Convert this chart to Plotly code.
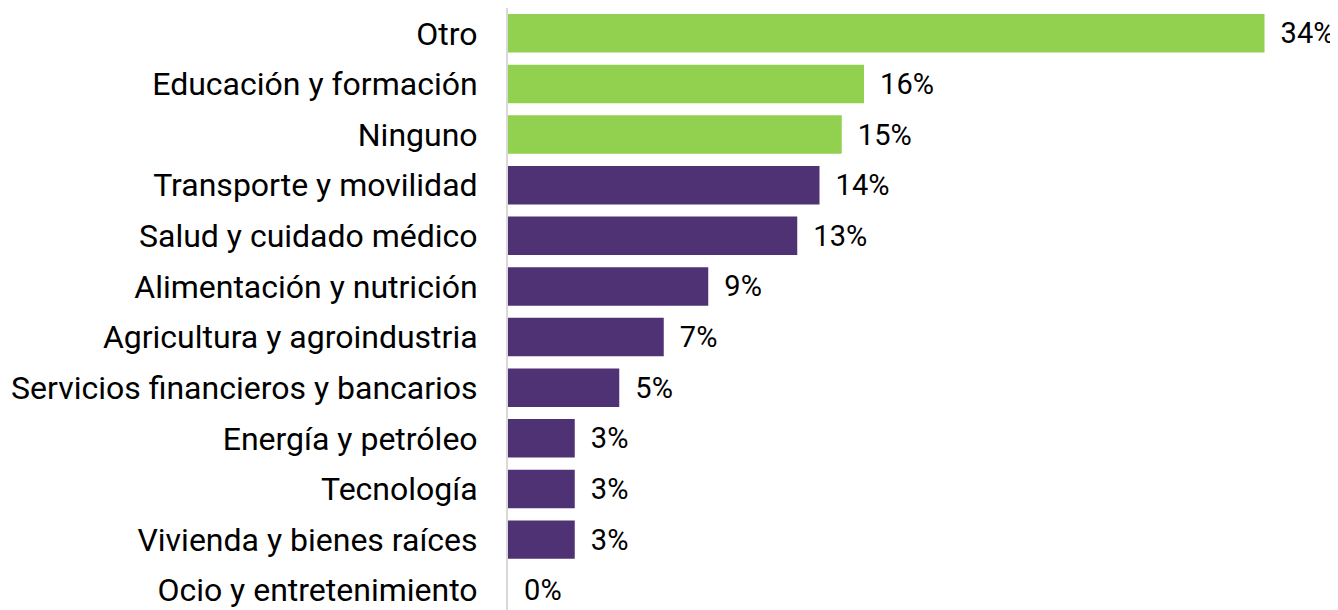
import plotly.graph_objects as go

verde = "rgba(146, 208, 80, 1)"
morado = "rgba(79, 50, 115, 1)"

categorias = ["Otro", "Educación y formación", "Ninguno", "Transporte y movilidad",
              "Salud y cuidado médico", "Alimentación y nutrición",
              "Agricultura y agroindustria", "Servicios financieros y bancarios",
              "Energía y petróleo", "Tecnología", "Vivienda y bienes raíces",
              "Ocio y entretenimiento"]
porcentajes = [34, 16, 15, 14, 13, 9, 7, 5, 3, 3, 3, 0]
colores = [verde] * 3 + [morado] * 9

fig = go.Figure(go.Bar(
    x=porcentajes, y=categorias, orientation='h',
    marker=dict(color=colores, line=dict(width=0)),
    text=[" \u2009%d%%" % p for p in porcentajes],
    textposition='outside', cliponaxis=False,
    textfont=dict(size=29, color='black'),
    constraintext='none',
))

# la pagina ya tiene 8px de margen en el body
fig.update_layout(
    width=1330, height=602,
    margin=dict(l=500, r=29, t=0, b=0),
    paper_bgcolor='white', plot_bgcolor='white',
    font=dict(family='Roboto', size=32, color='black'),
    bargap=0.24,
    showlegend=False,
)
fig.update_xaxes(range=[0, 36], visible=False, automargin=False)
fig.update_yaxes(range=[11.39, -0.5], showline=True, linecolor='#d9d9d9', linewidth=2,
                 ticks='', ticklabelstandoff=22, showgrid=False, automargin=False)

fig.write_html("out.html")
